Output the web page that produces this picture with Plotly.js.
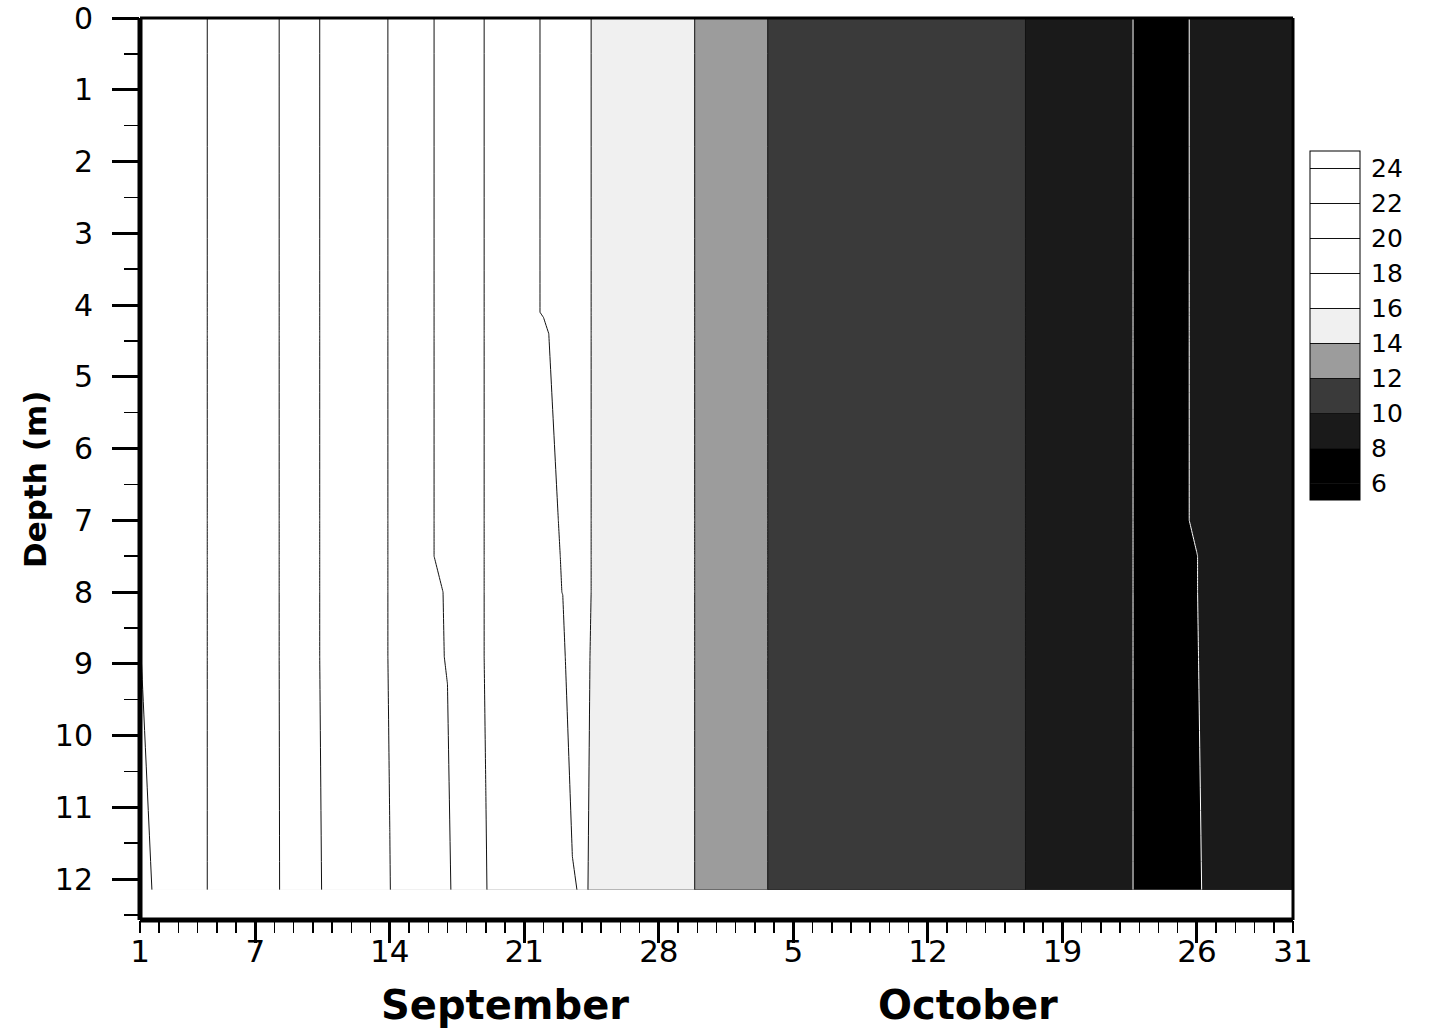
<!DOCTYPE html>
<html><head><meta charset="utf-8">
<script src="https://cdn.plot.ly/plotly-3.0.1.min.js"></script>
<style>html,body{margin:0;padding:0;background:#fff;}#chart{width:1437px;height:1035px;}</style>
</head><body><div id="chart"></div>
<script>
// Time axis: days since 1 September (0 = Sep 1, 30 = Oct 1, 60 = Oct 31)
const days = [0,1,2,3,4,5,6,7,8,9,10,11,12,13,14,15,16,17,18,19,20,21,22,22.5,23,23.5,24,25,26,27,28,29,30,31,32,33,34,35,36,37,38,39,40,41,42,43,44,45,46,47,48,49,50,51,52,53,54,55,56,57,58,59,60];
const depths = [0, 4.1, 4.4, 7.0, 7.5, 8.0, 8.9, 12.15];

// Water temperature (deg C) at each depth
const temp_0m   = [24.02,23.70,23.45,23.15,22.85,22.60,22.35,22.08,21.75,21.12,20.78,20.50,20.27,19.97,19.65,19.10,18.77,18.30,17.97,17.65,17.22,16.95,16.60,16.40,16.20,15.99,15.77,15.40,15.05,14.70,14.32,13.95,13.55,13.10,12.30,11.85,11.70,11.60,11.55,11.45,11.35,11.30,11.20,11.10,10.95,10.80,10.55,10.30,10.03,9.65,9.25,8.85,8.50,8.25,7.88,7.60,7.70,8.20,8.55,8.75,8.80,8.90,8.90];
const temp_4_1m = [24.02,23.70,23.45,23.15,22.85,22.60,22.35,22.08,21.75,21.12,20.78,20.50,20.27,19.97,19.65,19.10,18.77,18.30,17.97,17.65,17.22,16.95,16.60,16.40,16.20,15.99,15.77,15.40,15.05,14.70,14.32,13.95,13.55,13.10,12.30,11.85,11.70,11.60,11.55,11.45,11.35,11.30,11.20,11.10,10.95,10.80,10.55,10.30,10.03,9.65,9.25,8.85,8.50,8.25,7.88,7.60,7.70,8.20,8.55,8.75,8.80,8.90,8.90];
const temp_4_4m = [24.02,23.70,23.45,23.15,22.85,22.60,22.35,22.08,21.75,21.12,20.78,20.50,20.27,19.97,19.65,19.10,18.77,18.30,17.97,17.65,17.22,17.15,16.60,16.40,16.20,15.99,15.77,15.40,15.05,14.70,14.32,13.95,13.55,13.10,12.30,11.85,11.70,11.60,11.55,11.45,11.35,11.30,11.20,11.10,10.95,10.80,10.55,10.30,10.03,9.65,9.25,8.85,8.50,8.25,7.88,7.60,7.70,8.20,8.55,8.75,8.80,8.90,8.90];
const temp_7_0m = [24.02,23.70,23.45,23.15,22.85,22.60,22.35,22.08,21.75,21.12,20.78,20.50,20.27,19.97,19.65,19.10,18.77,18.30,17.97,17.65,17.22,17.20,16.94,16.40,16.20,15.99,15.77,15.40,15.05,14.70,14.32,13.95,13.55,13.10,12.30,11.85,11.70,11.60,11.55,11.45,11.35,11.30,11.20,11.10,10.95,10.80,10.55,10.30,10.03,9.65,9.25,8.85,8.50,8.25,7.88,7.60,7.70,8.20,8.55,8.75,8.80,8.90,8.90];
const temp_7_5m = [24.02,23.70,23.45,23.15,22.85,22.60,22.35,22.08,21.75,21.12,20.78,20.50,20.27,19.97,19.65,19.10,18.77,18.30,17.97,17.65,17.22,17.20,16.97,16.40,16.20,15.99,15.77,15.40,15.05,14.70,14.32,13.95,13.55,13.10,12.30,11.85,11.70,11.60,11.55,11.45,11.35,11.30,11.20,11.10,10.95,10.80,10.55,10.30,10.03,9.65,9.25,8.85,8.50,8.25,7.88,7.60,7.70,7.98,8.55,8.75,8.80,8.90,8.90];
const temp_8_0m = [24.02,23.70,23.45,23.15,22.85,22.60,22.35,22.08,21.75,21.12,20.78,20.50,20.27,19.97,19.65,19.10,18.97,18.30,17.97,17.65,17.22,17.20,16.99,16.40,16.20,15.99,15.77,15.40,15.05,14.70,14.32,13.95,13.55,13.10,12.30,11.85,11.70,11.60,11.55,11.45,11.35,11.30,11.20,11.10,10.95,10.80,10.55,10.30,10.03,9.65,9.25,8.85,8.50,8.25,7.88,7.60,7.70,7.98,8.55,8.75,8.80,8.90,8.90];
const temp_8_9m = [24.02,23.70,23.45,23.15,22.85,22.60,22.35,22.08,21.75,21.12,20.78,20.50,20.27,19.97,19.65,19.10,18.98,18.30,17.97,17.65,17.22,17.22,17.21,16.40,16.20,15.96,15.77,15.40,15.05,14.70,14.32,13.95,13.55,13.10,12.30,11.85,11.70,11.60,11.55,11.45,11.35,11.30,11.20,11.10,10.95,10.80,10.55,10.30,10.03,9.65,9.25,8.85,8.50,8.25,7.88,7.60,7.70,7.95,8.55,8.75,8.80,8.90,8.90];
const temp_12_15m = [24.49,23.70,23.45,23.15,22.85,22.60,22.35,22.09,21.75,21.18,20.78,20.50,20.27,20.01,19.65,19.20,19.15,18.30,18.02,17.65,17.45,17.38,17.30,17.10,16.89,15.46,15.42,15.38,15.05,14.70,14.32,13.95,13.55,13.10,12.30,11.85,11.70,11.60,11.55,11.45,11.35,11.30,11.20,11.10,10.95,10.80,10.55,10.30,10.03,9.65,9.25,8.85,8.50,8.25,7.88,7.60,7.70,7.82,8.55,8.75,8.80,8.90,8.90];

const dayTickVals = [0,6,13,20,27,34,41,48,55,60];
const dayTickText = ['1','7','14','21','28','5','12','19','26','31'];
const weekTickVals = [6,13,20,27,34,41,48,55];
const depthTicks = [0,1,2,3,4,5,6,7,8,9,10,11,12];
const colorbarTicks = [6,8,10,12,14,16,18,20,22,24];
const monthNames = ['September','October'];
const monthCenters = [19.0, 43.1];

const z = [temp_0m, temp_4_1m, temp_4_4m, temp_7_0m, temp_7_5m, temp_8_0m, temp_8_9m, temp_12_15m];

const grayScale = [
  [0,'#000000'],[0.15,'#000000'],
  [0.15,'#1a1a1a'],[0.25,'#1a1a1a'],
  [0.25,'#3a3a3a'],[0.35,'#3a3a3a'],
  [0.35,'#9c9c9c'],[0.45,'#9c9c9c'],
  [0.45,'#f0f0f0'],[0.55,'#f0f0f0'],
  [0.55,'#ffffff'],[1,'#ffffff']
];

const FONT = 'DejaVu Sans, Arial, sans-serif';

const traces = [
  {
    type:'contour', x:days, y:depths, z:z, autocontour:false,
    contours:{start:6, end:24, size:2, coloring:'fill', showlines:true},
    line:{color:'#111', width:1, smoothing:0},
    colorscale:grayScale, hoverinfo:'skip',
    colorbar:{
      x:1.0147, xanchor:'left', y:0.6588, yanchor:'middle',
      len:349, lenmode:'pixels', thickness:50, thicknessmode:'pixels',
      outlinewidth:1, outlinecolor:'#000', borderwidth:0, xpad:0, ypad:0,
      ticks:'outside', ticklen:6, tickcolor:'rgba(0,0,0,0)', tickmode:'array', tickvals:colorbarTicks,
      tickfont:{family:FONT, size:25, color:'#000'}
    }
  },
  {
    type:'contour', x:days, y:depths, z:z, autocontour:false, showscale:false,
    contours:{start:17, end:23, size:2, coloring:'none'},
    line:{color:'#111', width:1, smoothing:0}, hoverinfo:'skip'
  },
  {
    type:'contour', x:days, y:depths, z:z, autocontour:false, showscale:false,
    contours:{start:8, end:8, size:2, coloring:'none'},
    line:{color:'#ffffff', width:1, smoothing:0}, hoverinfo:'skip'
  },
  {type:'scatter', x:[], y:[], xaxis:'x2', yaxis:'y', showlegend:false, hoverinfo:'skip'}
];

const annotations = monthNames.map((m,i)=>({
  text:m, x:monthCenters[i], xref:'x', y:-0.094, yref:'paper',
  xanchor:'center', yanchor:'middle', showarrow:false,
  font:{family:FONT, size:40, weight:'bold', color:'#000'}
}));
annotations.push({
  text:'Depth (m)', x:-0.091, xref:'paper', y:0.488, yref:'paper',
  xanchor:'center', yanchor:'middle', textangle:-90, showarrow:false,
  font:{family:FONT, size:31, weight:'bold', color:'#000'}
});

const layout = {
  width:1437, height:1035,
  margin:{l:140, r:144, t:18, b:115},
  paper_bgcolor:'#fff', plot_bgcolor:'#fff',
  showlegend:false,
  xaxis:{
    range:[0,60], showgrid:false, zeroline:false, showline:false,
    tickmode:'array', tickvals:weekTickVals, ticks:'outside', ticklen:22, tickwidth:3, tickcolor:'#000',
    showticklabels:false,
    minor:{dtick:1, tick0:0, ticks:'outside', ticklen:12, tickwidth:1.5, tickcolor:'#000', showgrid:false}
  },
  xaxis2:{
    overlaying:'x', anchor:'y', side:'bottom', range:[0,60],
    tickmode:'array', tickvals:dayTickVals, ticktext:dayTickText,
    ticks:'outside', ticklen:4, tickcolor:'rgba(0,0,0,0)',
    showgrid:false, zeroline:false, showline:false, ticklabeloverflow:'allow',
    tickfont:{family:FONT, size:31, color:'#000'}
  },
  yaxis:{
    range:[12.57,0], showgrid:false, zeroline:false, showline:false,
    tickmode:'array', tickvals:depthTicks, ticks:'outside', ticklen:27, tickwidth:3, tickcolor:'#000',
    ticklabelstandoff:13, ticklabeloverflow:'allow',
    tickfont:{family:FONT, size:30, color:'#000'},
    minor:{dtick:0.5, tick0:0, ticks:'outside', ticklen:15, tickwidth:1.5, tickcolor:'#000', showgrid:false}
  },
  shapes:[
    {type:'line', xref:'paper', yref:'paper', x0:0, x1:0, y0:0, y1:1, line:{color:'#000', width:5}, layer:'above'},
    {type:'line', xref:'paper', yref:'paper', x0:0, x1:1, y0:0, y1:0, line:{color:'#000', width:5}, layer:'above'},
    {type:'line', xref:'paper', yref:'paper', x0:0, x1:1, y0:1, y1:1, line:{color:'#000', width:3}, layer:'above'},
    {type:'line', xref:'paper', yref:'paper', x0:1, x1:1, y0:0, y1:1, line:{color:'#000', width:3}, layer:'above'}
  ],
  annotations:annotations
};

Plotly.newPlot('chart', traces, layout, {displayModeBar:false, staticPlot:true});
</script>
</body></html>
